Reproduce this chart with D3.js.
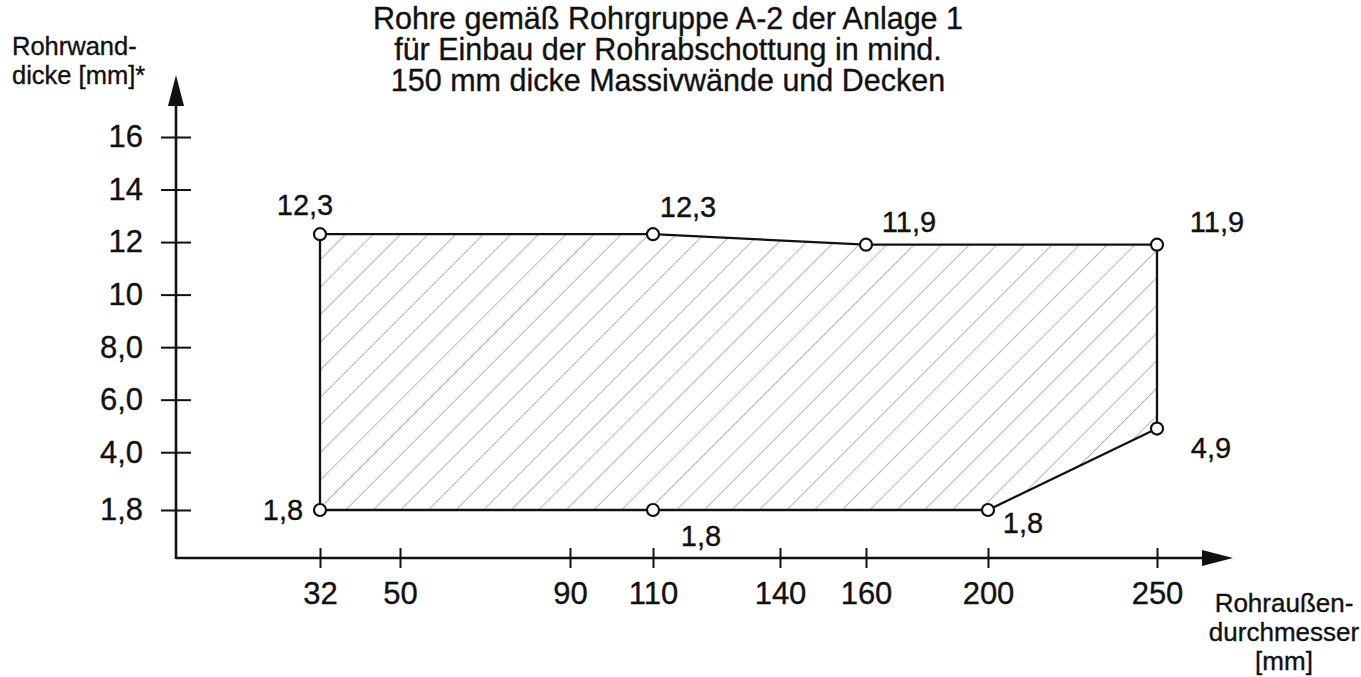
<!DOCTYPE html>
<html>
<head>
<meta charset="utf-8">
<script src="https://cdn.jsdelivr.net/npm/d3@7"></script>
<style>
  body { margin: 0; background: #fff; }
  text { font-family: "Liberation Sans", Arial, sans-serif; fill: #111; stroke: #111; stroke-width: 0.35px; }
</style>
</head>
<body>
<div class="chart"></div>
<script>
//Chart data
var diameters = [32, 110, 160, 250, 250, 200, 110, 32];
var wallThickness = [12.3, 12.3, 11.9, 11.9, 4.9, 1.8, 1.8, 1.8];

//Tick values and labels
var xTicks = [32, 50, 90, 110, 140, 160, 200, 250];
var yTicks = [1.8, 4, 6, 8, 10, 12, 14, 16];
var yTickLabels = ["1,8", "4,0", "6,0", "8,0", "10", "12", "14", "16"];

//Texts
var titleLines = ["Rohre gemäß Rohrgruppe A-2 der Anlage 1",
                  "für Einbau der Rohrabschottung in mind.",
                  "150 mm dicke Massivwände und Decken"];
var yAxisLines = ["Rohrwand-", "dicke [mm]*"];
var xAxisLines = ["Rohraußen-", "durchmesser", "[mm]"];

//SVG size
var svgWidth = 1361;
var svgHeight = 677;

//Axis origin and arrow tips
var originX = 176;
var originY = 558;
var xTipX = 1233;
var yTipY = 75;

//Tick positions along the hand drawn x axis (not to scale)
var xTickPos = [320, 400, 570, 653, 780, 866, 988, 1157];

//Label offsets for the corner values (dx, dy)
var labelOffsets = [
    [-15, -29],
    [35, -27],
    [43, -23],
    [60, -23],
    [54, 19],
    [35, 13],
    [48, 26],
    [-37, 0]
];

var svg = d3.select(".chart")
    .append("svg")
    .attr("width", svgWidth)
    .attr("height", svgHeight);

//Hatch pattern
var defs = svg.append("defs");
defs.append("pattern")
    .attr("id", "hatch")
    .attr("patternUnits", "userSpaceOnUse")
    .attr("width", 19.5)
    .attr("height", 19.5)
    .attr("patternTransform", "rotate(45)")
    .append("line")
    .attr("x1", 0).attr("y1", 0)
    .attr("x2", 0).attr("y2", 19.5)
    .attr("stroke", "#7a7a7a")
    .attr("stroke-width", 1.1);

//Scales
var xScale = d3.scaleLinear()
    .domain(xTicks)
    .range(xTickPos);

var yScale = d3.scaleLinear()
    .domain([1.8, 16])
    .range([510, 137]);

var commaFormat = d3.formatLocale({decimal: ",", thousands: ".", grouping: [3], currency: ["", " €"]}).format(".1f");

//Axes (ticks and labels only, the axis lines are drawn with arrows)
var bottomAxis = d3.axisBottom(xScale)
    .tickValues(xTicks)
    .tickFormat(d3.format("d"))
    .tickSize(10)
    .tickPadding(14);

var leftAxis = d3.axisLeft(yScale)
    .tickValues(yTicks)
    .tickFormat((d, i) => yTickLabels[i])
    .tickSize(15)
    .tickPadding(18);

var xAxisG = svg.append("g")
    .attr("transform", `translate(0, ${originY})`)
    .call(bottomAxis);

var yAxisG = svg.append("g")
    .attr("transform", `translate(${originX}, 0)`)
    .call(leftAxis);

[xAxisG, yAxisG].forEach(function(g) {
    g.select(".domain").remove();
    g.selectAll(".tick line").attr("stroke", "#111").attr("stroke-width", 2);
    g.selectAll(".tick text")
        .attr("font-family", "Liberation Sans, Arial, sans-serif")
        .attr("font-size", 31)
        .attr("fill", "#111");
});

//Ticks cross the axis lines
xAxisG.selectAll(".tick line").attr("y1", -10);
yAxisG.selectAll(".tick line").attr("x1", 15);

//Axis lines
svg.append("line")
    .attr("x1", originX).attr("y1", originY)
    .attr("x2", xTipX - 20).attr("y2", originY)
    .attr("stroke", "#111")
    .attr("stroke-width", 2.6);

svg.append("line")
    .attr("x1", originX).attr("y1", originY + 1)
    .attr("x2", originX).attr("y2", yTipY + 20)
    .attr("stroke", "#111")
    .attr("stroke-width", 2.6);

//Arrow heads
svg.append("path")
    .attr("d", `M${xTipX},${originY} L${xTipX - 31},${originY - 8} L${xTipX - 31},${originY + 8} Z`)
    .attr("fill", "#111");

svg.append("path")
    .attr("d", `M${originX},${yTipY} L${originX - 8},${yTipY + 31} L${originX + 8},${yTipY + 31} Z`)
    .attr("fill", "#111");

//Area polygon
var points = diameters.map((d, i) => [xScale(d), yScale(wallThickness[i])]);

svg.append("path")
    .attr("d", d3.line()(points) + "Z")
    .attr("fill", "url(#hatch)")
    .attr("stroke", "#111")
    .attr("stroke-width", 2.3)
    .attr("stroke-linejoin", "round");

//Corner circles
svg.selectAll("circle")
    .data(points)
    .enter()
    .append("circle")
    .attr("cx", d => d[0])
    .attr("cy", d => d[1])
    .attr("r", 6)
    .attr("fill", "#fff")
    .attr("stroke", "#111")
    .attr("stroke-width", 2.2);

//Corner value labels
svg.selectAll(null)
    .data(points)
    .enter()
    .append("text")
    .attr("x", (d, i) => d[0] + labelOffsets[i][0])
    .attr("y", (d, i) => d[1] + labelOffsets[i][1])
    .attr("dy", "0.35em")
    .attr("text-anchor", "middle")
    .attr("font-size", 29)
    .text((d, i) => commaFormat(wallThickness[i]));

//Title
svg.append("g")
    .selectAll("text")
    .data(titleLines)
    .enter()
    .append("text")
    .attr("x", 668)
    .attr("y", (d, i) => 29 + i * 31)
    .attr("text-anchor", "middle")
    .attr("font-size", 30.5)
    .text(d => d);

//y axis label
svg.append("g")
    .selectAll("text")
    .data(yAxisLines)
    .enter()
    .append("text")
    .attr("x", 12)
    .attr("y", (d, i) => 55 + i * 29)
    .attr("font-size", 25.5)
    .text(d => d);

//x axis label
svg.append("g")
    .selectAll("text")
    .data(xAxisLines)
    .enter()
    .append("text")
    .attr("x", 1284)
    .attr("y", (d, i) => 612 + i * 29)
    .attr("text-anchor", "middle")
    .attr("font-size", 26)
    .text(d => d);
</script>
</body>
</html>
